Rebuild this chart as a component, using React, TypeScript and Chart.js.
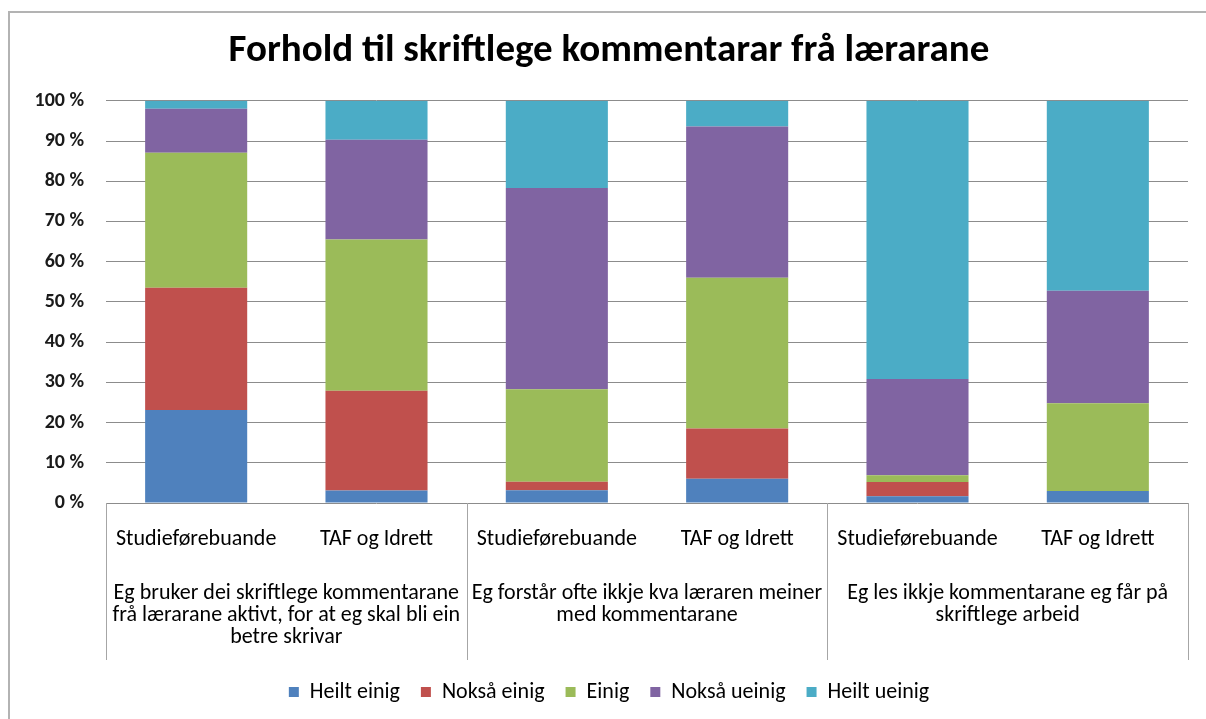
import React, { useEffect, useRef } from 'react';
import { Chart, registerables } from 'chart.js';

Chart.register(...registerables);

const FONT = 'Carlito, Lato, "Open Sans", sans-serif';

const titleText = 'Forhold til skriftlege kommentarar frå lærarane';

const subCategories = [
  'Studieførebuande',
  'TAF og Idrett',
  'Studieførebuande',
  'TAF og Idrett',
  'Studieførebuande',
  'TAF og Idrett',
];

const groupLabels = [
  ['Eg bruker dei skriftlege kommentarane', 'frå lærarane aktivt, for at eg skal bli ein', 'betre skrivar'],
  ['Eg forstår ofte ikkje kva læraren meiner', 'med kommentarane'],
  ['Eg les ikkje kommentarane eg får på', 'skriftlege arbeid'],
];

const seriesNames = ['Heilt einig', 'Nokså einig', 'Einig', 'Nokså ueinig', 'Heilt ueinig'];

const heiltEinig = [23.1, 3.1, 3.2, 6.0, 1.7, 3.0];
const noksaEinig = [30.4, 24.8, 2.1, 12.5, 3.5, 0];
const einig = [33.6, 37.6, 23.0, 37.5, 1.7, 21.8];
const noksaUeinig = [10.9, 24.8, 50.0, 37.6, 23.9, 28.0];
const heiltUeinig = [2.0, 9.7, 21.7, 6.4, 69.2, 47.2];

const yTicks = [0, 10, 20, 30, 40, 50, 60, 70, 80, 90, 100];

const colors = ['#4F81BD', '#C0504D', '#9BBB59', '#8064A2', '#4BACC6'];

const groupSeparatorPlugin = {
  id: 'groupSeparators',
  afterDraw(chart: any) {
    const xs = chart.scales.x;
    const ctx = chart.ctx;
    const perGroup = subCategories.length / groupLabels.length;
    ctx.save();
    ctx.strokeStyle = '#a6a6a6';
    ctx.lineWidth = 1;
    for (let g = 0; g <= groupLabels.length; g++) {
      const px = Math.round(xs.getPixelForValue(g * perGroup - 0.5)) + 0.5;
      ctx.beginPath();
      ctx.moveTo(px, chart.chartArea.bottom);
      ctx.lineTo(px, chart.scales.x2.bottom);
      ctx.stroke();
    }
    ctx.restore();
  },
};

export default function App() {
  const ref = useRef<HTMLCanvasElement>(null);

  useEffect(() => {
    const allSeries = [heiltEinig, noksaEinig, einig, noksaUeinig, heiltUeinig];
    const chart = new Chart(ref.current as HTMLCanvasElement, {
      type: 'bar',
      data: {
        labels: subCategories,
        datasets: allSeries.map((d, i) => ({
          label: seriesNames[i],
          data: d,
          backgroundColor: colors[i],
          borderWidth: 0,
          xAxisID: 'x',
          yAxisID: 'y',
          barPercentage: 0.566,
          categoryPercentage: 1.0,
        })),
      },
      options: {
        responsive: false,
        animation: false,
        events: [],
        layout: { padding: { left: 30, right: 18, top: 20, bottom: 6 } },
        plugins: {
          title: {
            display: true,
            text: titleText,
            color: '#000',
            font: { family: FONT, size: 39, weight: 'bold', lineHeight: 1.2 },
            padding: { top: 8, bottom: 26 },
          },
          legend: {
            display: true,
            position: 'bottom',
            labels: {
              boxWidth: 10,
              boxHeight: 10,
              padding: 21,
              color: '#000',
              font: { family: FONT, size: 22 },
            },
          },
          tooltip: { enabled: false },
        },
        scales: {
          x: {
            type: 'category',
            stacked: true,
            offset: true,
            position: 'bottom',
            grid: { display: false, drawTicks: false },
            border: { display: false },
            ticks: {
              autoSkip: false,
              maxRotation: 0,
              padding: 23,
              color: '#000',
              font: { family: FONT, size: 22, lineHeight: 1.2 },
            },
            afterFit: (s: any) => { s.height = 52; },
          },
          x2: {
            type: 'category',
            labels: groupLabels as any,
            offset: true,
            position: 'bottom',
            weight: 1,
            grid: { display: false, drawTicks: false },
            border: { display: false },
            ticks: {
              autoSkip: false,
              maxRotation: 0,
              padding: 27,
              color: '#000',
              font: { family: FONT, size: 22, lineHeight: 1.0 },
            },
            afterFit: (s: any) => { s.height = 105; },
          },
          y: {
            stacked: true,
            min: 0,
            max: 100,
            afterBuildTicks: (s: any) => { s.ticks = yTicks.map((v) => ({ value: v })); },
            grid: { color: '#8c8c8c', drawTicks: false, lineWidth: 1 },
            border: { display: false },
            ticks: {
              padding: 22,
              color: '#1a1a1a',
              font: { family: FONT, size: 20, weight: 'bold' },
              callback: (v: any) => `${v} %`,
            },
            afterFit: (s: any) => { s.width = 76; },
          },
        },
      },
      plugins: [groupSeparatorPlugin],
    } as any);
    return () => chart.destroy();
  }, []);

  return (
    <div style={{ position: 'fixed', left: 0, top: 0, width: 1206, height: 719, background: '#fff', overflow: 'hidden' }}>
      <div
        style={{
          position: 'absolute',
          left: 8,
          top: 11,
          width: 1300,
          height: 800,
          borderLeft: '2px solid #b3b3b3',
          borderTop: '2px solid #b3b3b3',
        }}
      />
      <canvas
        ref={ref}
        width={1206}
        height={719}
        style={{ position: 'absolute', left: 0, top: 0, width: 1206, height: 719, display: 'block' }}
      />
    </div>
  );
}
